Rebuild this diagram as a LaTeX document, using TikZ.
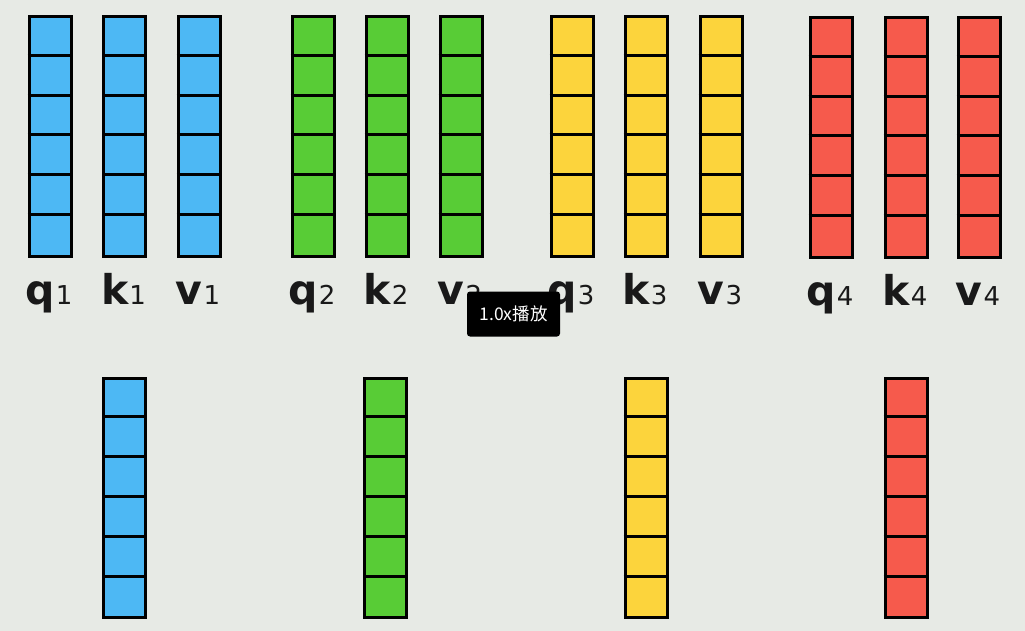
\documentclass[tikz,border=0pt]{standalone}
\usepackage{fontspec}
\setmainfont{DejaVu Sans}
\newfontfamily\cjkfont{Noto Sans CJK SC}
\definecolor{bgc}{HTML}{E7EAE5}
\definecolor{cblue}{HTML}{4DB8F4}
\definecolor{cgreen}{HTML}{58CC36}
\definecolor{cyellow}{HTML}{FCD43C}
\definecolor{cred}{HTML}{F65A4C}
\tikzset{
  colbox/.style={draw=black, line width=3pt, rectangle, inner sep=0pt,
    minimum width=42pt, minimum height=239pt, anchor=north west},
  sepline/.style={draw=black, line width=3pt},
  lab/.style={anchor=base, inner sep=0pt, text=black!90},
  tip/.style={fill=black, rounded corners=3pt, inner sep=0pt,
    minimum width=93pt, minimum height=45pt, text=white,
    font=\cjkfont\fontsize{17.5pt}{17.5pt}\selectfont}
}
\newcommand\vcol[4]{%
  \node[colbox, fill=#4] (#1) at (#2,#3) {};
  \foreach \k in {1,...,5}
    \draw[sepline] ([yshift=-\k*39.83pt]#1.north west) -- ([yshift=-\k*39.83pt]#1.north east);
}
\newcommand\vlab[3]{%
  \node[lab] (l#1) at ([xshift=-1pt,yshift=-47pt]#1.south)
    {{\fontsize{41pt}{41pt}\selectfont\bfseries #2}\kern1pt{\fontsize{26pt}{26pt}\selectfont #3}};
}
\begin{document}
\begin{tikzpicture}[x=1pt,y=-1pt]
\fill[bgc] (0,0) rectangle (1025,631);
\useasboundingbox (0,0) rectangle (1025,631);
% top row
\vcol{q1}{27.5}{15.5}{cblue}
\vcol{k1}{102}{15.5}{cblue}
\vcol{v1}{176.5}{15.5}{cblue}
\vcol{q2}{290.5}{15.5}{cgreen}
\vcol{k2}{364.5}{15.5}{cgreen}
\vcol{v2}{438.5}{15.5}{cgreen}
\vcol{q3}{549.5}{15.5}{cyellow}
\vcol{k3}{623.5}{15.5}{cyellow}
\vcol{v3}{698.5}{15.5}{cyellow}
\vcol{q4}{808.5}{16.5}{cred}
\vcol{k4}{883.5}{16.5}{cred}
\vcol{v4}{956.5}{16.5}{cred}
% labels
\vlab{q1}{q}{1}\vlab{k1}{k}{1}\vlab{v1}{v}{1}
\vlab{q2}{q}{2}\vlab{k2}{k}{2}\vlab{v2}{v}{2}
\vlab{q3}{q}{3}\vlab{k3}{k}{3}\vlab{v3}{v}{3}
\vlab{q4}{q}{4}\vlab{k4}{k}{4}\vlab{v4}{v}{4}
% bottom row
\vcol{b1}{102}{377}{cblue}
\vcol{b2}{363}{377}{cgreen}
\vcol{b3}{623.5}{377}{cyellow}
\vcol{b4}{883.5}{377}{cred}
% player tooltip
\node[tip] (tip) at (513.5,314) {1.0x播放};
\end{tikzpicture}
\end{document}
